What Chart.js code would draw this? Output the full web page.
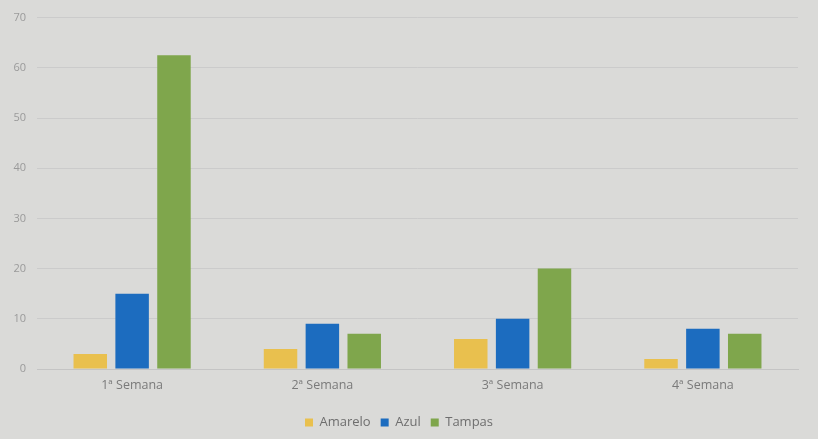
<!DOCTYPE html>
<html lang="pt">
<head>
    <meta charset="UTF-8">
    <title>Semanas</title>
    <style>
        body {
            margin: 0;
            background-color: #dadad8;
        }
        #wrap {
            width: 818px;
            height: 439px;
        }
    </style>
</head>
<body>
    <div id="wrap"><canvas id="chart" width="818" height="439"></canvas></div>

    <script src="https://cdn.jsdelivr.net/npm/chart.js"></script>
    <script>
        const categories = ['1ª Semana', '2ª Semana', '3ª Semana', '4ª Semana'];
        const amarelo = [3, 4, 6, 2];
        const azul = [15, 9, 10, 8];
        const tampas = [62.5, 7, 20, 7];
        const yTicks = [0, 10, 20, 30, 40, 50, 60, 70];

        const ctx = document.getElementById('chart').getContext('2d');
        new Chart(ctx, {
            type: 'bar',
            data: {
                labels: categories,
                datasets: [
                    { label: 'Amarelo', data: amarelo, backgroundColor: '#e9c04e' },
                    { label: 'Azul', data: azul, backgroundColor: '#1c6cbf' },
                    { label: 'Tampas', data: tampas, backgroundColor: '#7fa64c' }
                ]
            },
            options: {
                responsive: false,
                animation: false,
                layout: { padding: { top: 12, right: 20, left: 0, bottom: 0 } },
                datasets: {
                    bar: { barPercentage: 0.8, categoryPercentage: 0.66 }
                },
                plugins: {
                    legend: {
                        position: 'bottom',
                        labels: {
                            boxWidth: 8,
                            boxHeight: 8,
                            padding: 10,
                            color: '#6e6e6e',
                            font: { family: 'Open Sans', size: 13 }
                        }
                    },
                    tooltip: { enabled: false }
                },
                scales: {
                    x: {
                        afterFit: (scale) => { scale.height += 12; },
                        grid: { display: false },
                        border: { color: '#c4c4c4' },
                        ticks: { color: '#7a7a7a', font: { family: 'Open Sans', size: 12.5 }, padding: 1 }
                    },
                    y: {
                        min: 0,
                        max: 70,
                        afterFit: (scale) => { scale.width = 37; },
                        afterBuildTicks: (scale) => {
                            scale.ticks = yTicks.map(v => ({ value: v }));
                        },
                        grid: { color: '#cbcbcb', drawTicks: false },
                        border: { display: false },
                        ticks: { color: '#9a9a9a', font: { family: 'Open Sans', size: 11 }, padding: 11 }
                    }
                }
            },
            plugins: [{
                id: 'bg',
                beforeDraw: (chart) => {
                    const c = chart.ctx;
                    c.save();
                    c.fillStyle = '#dadad8';
                    c.fillRect(0, 0, chart.width, chart.height);
                    c.restore();
                }
            }]
        });
    </script>
</body>
</html>
